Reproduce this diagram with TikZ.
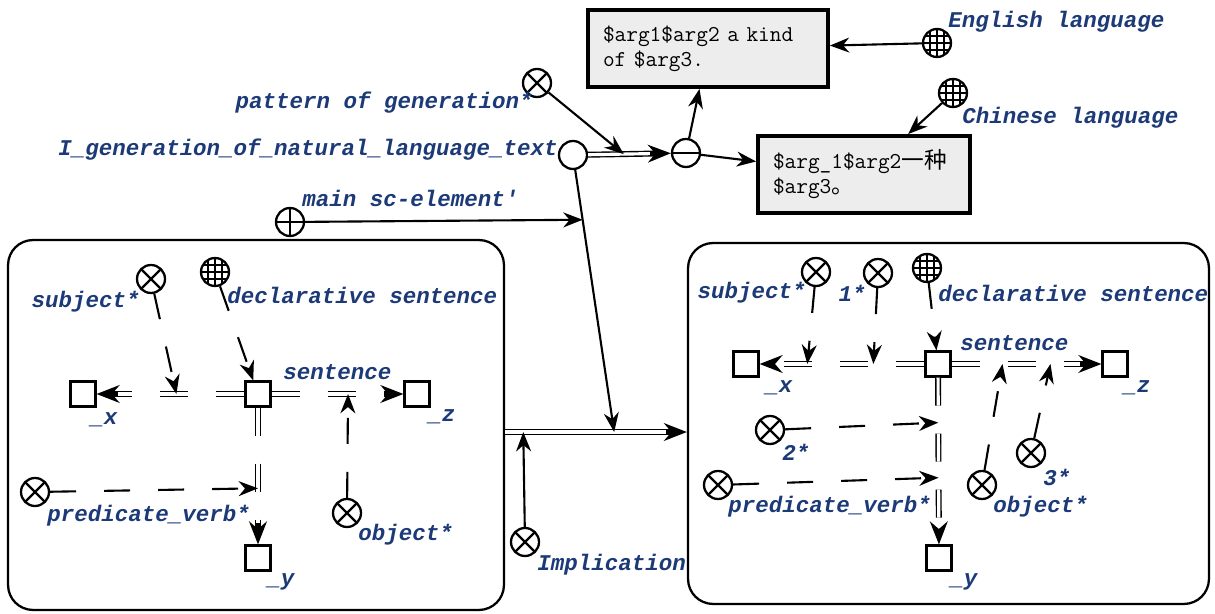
\documentclass[tikz,border=0pt]{standalone}
\usepackage{fontspec}
\usetikzlibrary{arrows.meta}
\newfontfamily\labmono{Liberation Mono}
\newfontfamily\cjk{Noto Sans CJK SC}
\definecolor{labblue}{RGB}{28,58,120}
\newcommand\labfont{\labmono\bfseries\itshape\fontsize{12.8pt}{14pt}\selectfont}
\newcommand\boxfont{\ttfamily\fontsize{12.9pt}{14.2pt}\selectfont}

\begin{document}
\begin{tikzpicture}[x=0.02cm, y=-0.02cm,
  sc/.style={circle, draw, line width=1.3pt, minimum size=0.56cm, inner sep=0pt, fill=white},
  scvar/.style={sc, path picture={\draw[line width=1.3pt] (path picture bounding box.north west) -- (path picture bounding box.south east) (path picture bounding box.north east) -- (path picture bounding box.south west);}},
  scplus/.style={sc, path picture={\draw[line width=1.3pt] (path picture bounding box.north) -- (path picture bounding box.south) (path picture bounding box.west) -- (path picture bounding box.east);}},
  scminus/.style={sc, path picture={\draw[line width=1.6pt] (path picture bounding box.west) -- (path picture bounding box.east);}},
  scglobe/.style={sc, path picture={\foreach \k in {-0.14,0,0.14} {\draw[line width=0.8pt] ([xshift=\k cm]path picture bounding box.north) -- ([xshift=\k cm]path picture bounding box.south) ([yshift=\k cm]path picture bounding box.west) -- ([yshift=\k cm]path picture bounding box.east);}}},
  scset/.style={draw, line width=1.2pt, minimum size=0.5cm, inner sep=0pt, fill=white},
  cont/.style={draw, line width=1.3pt, rounded corners=0.5cm, inner sep=0pt},
  txtbox/.style={draw, line width=2.2pt, fill=black!7, font=\boxfont, align=left, minimum height=1.54cm, inner xsep=0.3cm},
  lab/.style={font=\labfont, text=labblue, inner sep=0pt},
  arc/.style={line width=1.2pt, -{Stealth[length=11pt,width=8.5pt]}},
  vararc/.style={arc, dash pattern=on 0.52cm off 0.56cm},
  common/.style={line width=3.4pt, -{Stealth[length=13pt,width=10pt]}, postaction={draw=white, line width=1.8pt, shorten >=12pt, -}},
  varcommon/.style={common, dash pattern=on 0.56cm off 0.56cm}]
  \useasboundingbox (0,0) rectangle (1215,614);

  \node[cont, minimum width=9.92cm, minimum height=7.4cm] (lbox) at (256,425) {};
  \node[cont, minimum width=10.42cm, minimum height=7.22cm] (rbox) at (948.5,423.5) {};

  \node[txtbox, text width=4.2cm] (eng) at (708,48.5) {\$arg1\$arg2 a kind\\of \$arg3.};
  \node[txtbox, text width=3.64cm] (chn) at (864,174.5) {\$arg\_1\$arg2{\cjk 一种}\\\$arg3{\cjk 。}};
  \node[scglobe] (geng) at (937,43) {};
  \node[lab, anchor=west] (t-geng) at (948,22) {English language};
  \node[scglobe] (gchn) at (953,93) {};
  \node[lab, anchor=west] (t-gchn) at (962,118) {Chinese language};
  \node[scminus] (tpl) at (686,153) {};
  \node[sc] (igen) at (573,155) {};
  \node[lab, anchor=east] (t-igen) at (558,150) {I\_generation\_of\_natural\_language\_text};
  \node[scvar] (pgen) at (537,83) {};
  \node[lab, anchor=east] (t-pgen) at (533,103) {pattern of generation*};
  \node[scplus] (mainel) at (290,222) {};
  \node[lab, anchor=west] (t-mainel) at (302,198) {main sc-element\textquotesingle};
  \node[scvar] (impl) at (525,542) {};
  \node[lab, anchor=west] (t-impl) at (537,565) {Implication};

  \node[scset] (ls) at (258,394) {};
  \node[scset] (lx) at (83,394) {};
  \node[scset] (lz) at (417,394) {};
  \node[scset] (ly) at (258,558) {};
  \node[scvar] (lsubj) at (151,279) {};
  \node[scglobe] (ldecl) at (215,272) {};
  \node[scvar] (lpred) at (35,492) {};
  \node[scvar] (lobj) at (347,513) {};
  \node[lab, anchor=east] (t-lsubj) at (140,302) {subject*};
  \node[lab, anchor=west] (t-ldecl) at (227,295) {declarative sentence};
  \node[lab, anchor=west] (t-ls) at (283,372) {sentence};
  \node[lab, anchor=west] (t-lx) at (90,420) {\_x};
  \node[lab, anchor=west] (t-lz) at (428,417) {\_z};
  \node[lab, anchor=west] (t-ly) at (267,582) {\_y};
  \node[lab, anchor=west] (t-lpred) at (47,516) {predicate\_verb*};
  \node[lab, anchor=west] (t-lobj) at (358,535) {object*};

  \node[scset] (rs) at (938,364) {};
  \node[scset] (rx) at (746,364) {};
  \node[scset] (rz) at (1115,364) {};
  \node[scset] (ry) at (939,558) {};
  \node[scvar] (rsubj) at (816,272) {};
  \node[scvar] (rone) at (878,273) {};
  \node[scglobe] (rdecl) at (927,268) {};
  \node[scvar] (rtwo) at (770,430) {};
  \node[scvar] (rpred) at (718,485) {};
  \node[scvar] (robj) at (982,485) {};
  \node[scvar] (rthree) at (1031,453) {};
  \node[lab, anchor=east] (t-rsubj) at (806,293) {subject*};
  \node[lab, anchor=east] (t-rone) at (866,293) {1*};
  \node[lab, anchor=west] (t-rdecl) at (938,293) {declarative sentence};
  \node[lab, anchor=west] (t-rs) at (960,343) {sentence};
  \node[lab, anchor=west] (t-rx) at (765,388) {\_x};
  \node[lab, anchor=west] (t-rz) at (1123,388) {\_z};
  \node[lab, anchor=west] (t-ry) at (950,582) {\_y};
  \node[lab, anchor=west] (t-rtwo) at (782,452) {2*};
  \node[lab, anchor=west] (t-rpred) at (728,507) {predicate\_verb*};
  \node[lab, anchor=west] (t-robj) at (993,507) {object*};
  \node[lab, anchor=west] (t-rthree) at (1043,477) {3*};

  \draw[common] (igen) -- coordinate[pos=.43] (apat) (tpl);
  \draw[arc] (pgen) -- (apat);
  \draw[arc] (tpl) -- (eng);
  \draw[arc] (tpl) -- (chn);
  \draw[arc] (geng) -- (eng);
  \draw[arc] (gchn) -- (chn);
  \coordinate (bst) at ([yshift=-4pt]lbox.east);
  \coordinate (ben) at (bst -| rbox.west);
  \draw[common] (bst) -- coordinate[pos=.1] (aimp) coordinate[pos=.6] (agen) (ben);
  \draw[arc] (igen) -- coordinate[pos=.19] (amain) (agen);
  \draw[arc] (mainel) -- (amain);
  \draw[arc] (impl) -- (aimp);

  \draw[varcommon] (ls) -- coordinate[pos=.46] (lsx) (lx);
  \draw[varcommon] (ls) -- coordinate[pos=.58] (lsz) (lz);
  \draw[varcommon] (ls) -- coordinate[pos=.59] (lsy) (ly);
  \draw[vararc] (lsubj) -- (lsx);
  \draw[vararc] (ldecl) -- (ls);
  \draw[vararc] (lpred) -- (lsy);
  \draw[vararc] (lobj) -- (lsz);

  \draw[varcommon] (rs) -- coordinate[pos=.31] (rsx1) coordinate[pos=.71] (rsx2) (rx);
  \draw[varcommon] (rs) -- coordinate[pos=.34] (rsz1) coordinate[pos=.66] (rsz2) (rz);
  \draw[varcommon] (rs) -- coordinate[pos=.27] (rsy1) coordinate[pos=.6] (rsy2) (ry);
  \draw[vararc] (rsubj) -- (rsx2);
  \draw[vararc] (rone) -- (rsx1);
  \draw[vararc] (rdecl) -- (rs);
  \draw[vararc] (rtwo) -- (rsy1);
  \draw[vararc] (rpred) -- (rsy2);
  \draw[vararc] (robj) -- (rsz1);
  \draw[vararc] (rthree) -- (rsz2);
\end{tikzpicture}
\end{document}
